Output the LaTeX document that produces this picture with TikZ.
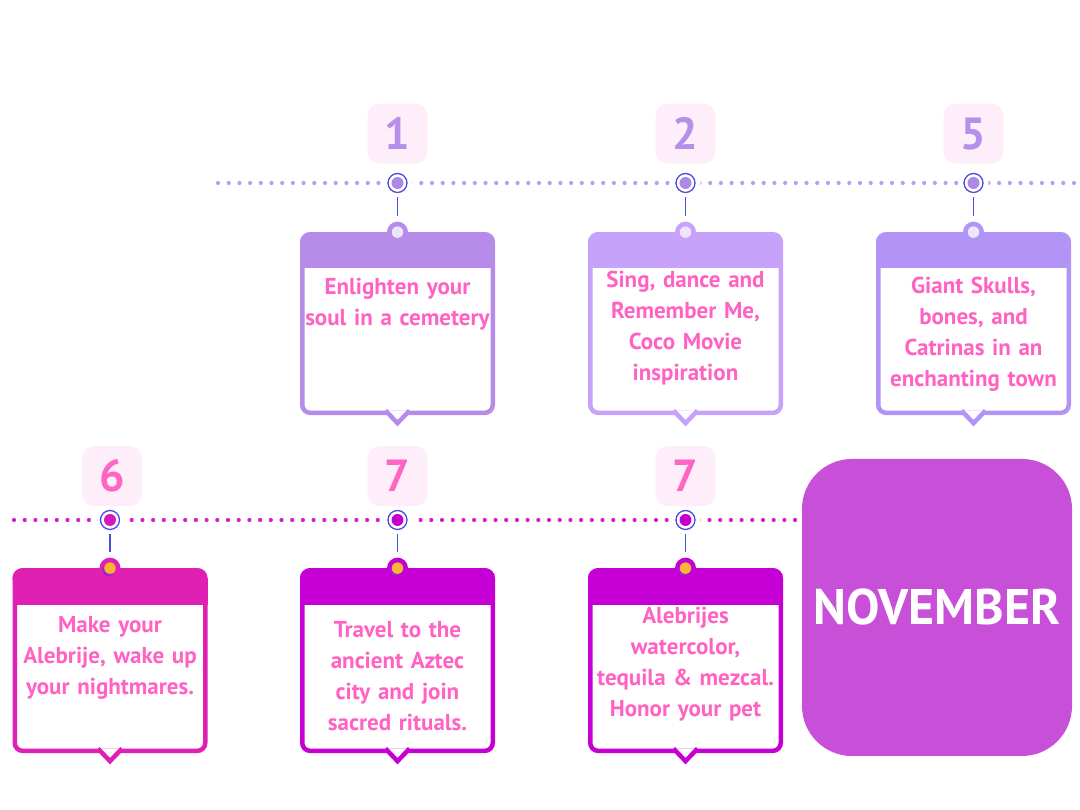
\documentclass[tikz,border=0pt]{standalone}
\usepackage{fontspec}
\setmainfont{PT Sans}
\usetikzlibrary{positioning}

\definecolor{ringblue}{HTML}{4B4BE0}
\definecolor{lilac}{HTML}{B79EF2}
\definecolor{magdot}{HTML}{D31FC6}
\definecolor{cardA}{HTML}{B78BEA}
\definecolor{cardB}{HTML}{C6A2FA}
\definecolor{cardC}{HTML}{B294F7}
\definecolor{cardD}{HTML}{E01FB3}
\definecolor{cardE}{HTML}{C600D4}
\definecolor{coreA}{HTML}{A98AE8}
\definecolor{coreD}{HTML}{D418BE}
\definecolor{badgebg}{HTML}{FDEEF9}
\definecolor{numpurple}{HTML}{B58FEA}
\definecolor{numpink}{HTML}{FF66C4}
\definecolor{textpink}{HTML}{FF62C2}
\definecolor{novfill}{HTML}{C84FD8}
\definecolor{pinlight}{HTML}{EDE6FB}
\definecolor{pinyellow}{HTML}{F7B533}
\definecolor{pinshade}{HTML}{A818D8}

\begin{document}
\begin{tikzpicture}[
    x=1pt, y=1pt,
    dotline/.style={line width=4.2pt, line cap=round, dash pattern=on 0pt off 10.7pt},
    marker/.style={circle, inner sep=0pt, minimum size=19pt, draw=ringblue, line width=1.3pt,
        fill=white, preaction={draw=white, line width=11pt}},
    core/.style={circle, inner sep=0pt, minimum size=12pt},
    badge/.style={rounded corners=12pt, fill=badgebg, minimum size=60pt, inner sep=0pt,
        font=\fontsize{45}{45}\selectfont\bfseries},
    pin/.style={circle, inner sep=0pt, minimum size=21pt},
    pindot/.style={circle, inner sep=0pt, minimum size=11.5pt},
    stem/.style={draw=ringblue, line width=1.3pt, shorten <=4pt, shorten >=5.5pt},
    card/.style 2 args={draw=#1, line width=4.5pt, fill=white, rounded corners=8pt,
        minimum width=190.5pt, minimum height=#2, inner sep=0pt},
    tip/.style={draw=#1, line width=4.5pt, fill=white, line join=miter, sharp corners},
    cardtext/.style={text=textpink, align=center, inner sep=0pt, text width=190pt,
        font=\fontsize{23}{31}\selectfont\bfseries}
]
\useasboundingbox (0,0) rectangle (1080,810);

% timelines
\draw[dotline, lilac] (218,627) -- (1080,627);
\draw[dotline, magdot] (14,290) -- (810,290);

% month block
\node[fill=novfill, rounded corners=50pt, minimum width=270pt, minimum height=297pt, inner sep=0pt,
    text=white, font=\fontsize{50}{50}\selectfont\bfseries] (nov) at (937,202.5) {NOVEMBER};

% markers on the lines
\node[marker] (m1) at (397.5,627) {};
\node[core, fill=coreA] at (m1) {};
\node[marker] (m2) at (685.5,627) {};
\node[core, fill=coreA] at (m2) {};
\node[marker] (m3) at (973.5,627) {};
\node[core, fill=coreA] at (m3) {};
\node[marker] (m4) at (110,290) {};
\node[core, fill=coreD] at (m4) {};
\node[marker] (m5) at (397.5,290) {};
\node[core, fill=cardE] at (m5) {};
\node[marker] (m6) at (685.5,290) {};
\node[core, fill=cardE] at (m6) {};

% day badges
\node[badge, text=numpurple, above=9pt of m1] (b1) {1};
\node[badge, text=numpurple, above=9pt of m2] (b2) {2};
\node[badge, text=numpurple, above=9pt of m3] (b3) {5};
\node[badge, text=numpink, above=3.5pt of m4, xshift=2pt] (b4) {6};
\node[badge, text=numpink, above=3.5pt of m5] (b5) {7};
\node[badge, text=numpink, above=3.5pt of m6] (b6) {7};

% cards
\node[card={cardA}{178.5pt}, below=39pt of m1] (c1) {};
\node[card={cardB}{178.5pt}, below=39pt of m2] (c2) {};
\node[card={cardC}{178.5pt}, below=39pt of m3] (c3) {};
\node[card={cardD}{180.5pt}, below=38pt of m4] (c4) {};
\node[card={cardE}{180.5pt}, below=38pt of m5] (c5) {};
\node[card={cardE}{180.5pt}, below=38pt of m6] (c6) {};

% headers and pointers
\fill[cardA, rounded corners=10pt] (c1.north west) rectangle ([yshift=-20pt]c1.north east);
\fill[cardA] ([yshift=-11pt]c1.north west) rectangle ([yshift=-36pt]c1.north east);
\draw[tip=cardA] ([xshift=-12pt, yshift=4.5pt]c1.south) -- ([yshift=-8pt]c1.south) -- ([xshift=12pt, yshift=4.5pt]c1.south);
\fill[cardB, rounded corners=10pt] (c2.north west) rectangle ([yshift=-20pt]c2.north east);
\fill[cardB] ([yshift=-11pt]c2.north west) rectangle ([yshift=-36pt]c2.north east);
\draw[tip=cardB] ([xshift=-12pt, yshift=4.5pt]c2.south) -- ([yshift=-8pt]c2.south) -- ([xshift=12pt, yshift=4.5pt]c2.south);
\fill[cardC, rounded corners=10pt] (c3.north west) rectangle ([yshift=-20pt]c3.north east);
\fill[cardC] ([yshift=-11pt]c3.north west) rectangle ([yshift=-36pt]c3.north east);
\draw[tip=cardC] ([xshift=-12pt, yshift=4.5pt]c3.south) -- ([yshift=-8pt]c3.south) -- ([xshift=12pt, yshift=4.5pt]c3.south);
\fill[cardD, rounded corners=10pt] (c4.north west) rectangle ([yshift=-20pt]c4.north east);
\fill[cardD] ([yshift=-11pt]c4.north west) rectangle ([yshift=-37pt]c4.north east);
\draw[tip=cardD] ([xshift=-12pt, yshift=4.5pt]c4.south) -- ([yshift=-8pt]c4.south) -- ([xshift=12pt, yshift=4.5pt]c4.south);
\fill[cardE, rounded corners=10pt] (c5.north west) rectangle ([yshift=-20pt]c5.north east);
\fill[cardE] ([yshift=-11pt]c5.north west) rectangle ([yshift=-37pt]c5.north east);
\draw[tip=cardE] ([xshift=-12pt, yshift=4.5pt]c5.south) -- ([yshift=-8pt]c5.south) -- ([xshift=12pt, yshift=4.5pt]c5.south);
\fill[cardE, rounded corners=10pt] (c6.north west) rectangle ([yshift=-20pt]c6.north east);
\fill[cardE] ([yshift=-11pt]c6.north west) rectangle ([yshift=-37pt]c6.north east);
\draw[tip=cardE] ([xshift=-12pt, yshift=4.5pt]c6.south) -- ([yshift=-8pt]c6.south) -- ([xshift=12pt, yshift=4.5pt]c6.south);

% card texts
\node[cardtext, below=45.5pt of c1.north] (t1) {Enlighten your\\soul in a cemetery};
\node[cardtext, below=38.5pt of c2.north] (t2) {Sing, dance and\\Remember Me,\\Coco Movie\\inspiration};
\node[cardtext, below=44.5pt of c3.north] (t3) {Giant Skulls,\\bones, and\\Catrinas in an\\enchanting town};
\node[cardtext, below=48.5pt of c4.north] (t4) {Make your\\Alebrije, wake up\\your nightmares.};
\node[cardtext, below=53.5pt of c5.north] (t5) {Travel to the\\ancient Aztec\\city and join\\sacred rituals.};
\node[cardtext, below=38.5pt of c6.north] (t6) {Alebrijes\\watercolor,\\tequila \& mezcal.\\Honor your pet};

% pins
\node[pin, fill=cardA] (p1) at (c1.north) {};
\node[pindot, fill=pinlight] at (p1) {};
\node[pin, fill=cardB] (p2) at (c2.north) {};
\node[pindot, fill=pinlight] at (p2) {};
\node[pin, fill=cardC] (p3) at (c3.north) {};
\node[pindot, fill=pinlight] at (p3) {};
\node[pin, fill=cardD] (p4) at (c4.north) {};
\node[pindot, fill=pinshade] at ([shift={(-1.5pt,-2pt)}]p4) {};
\node[pindot, fill=pinyellow] at (p4) {};
\node[pin, fill=cardE] (p5) at (c5.north) {};
\node[pindot, fill=pinshade] at ([shift={(-1.5pt,-2pt)}]p5) {};
\node[pindot, fill=pinyellow] at (p5) {};
\node[pin, fill=cardE] (p6) at (c6.north) {};
\node[pindot, fill=pinshade] at ([shift={(-1.5pt,-2pt)}]p6) {};
\node[pindot, fill=pinyellow] at (p6) {};

% stems
\draw[stem] (m1) -- (p1);
\draw[stem] (m2) -- (p2);
\draw[stem] (m3) -- (p3);
\draw[stem] (m4) -- (p4);
\draw[stem] (m5) -- (p5);
\draw[stem] (m6) -- (p6);
\end{tikzpicture}
\end{document}
